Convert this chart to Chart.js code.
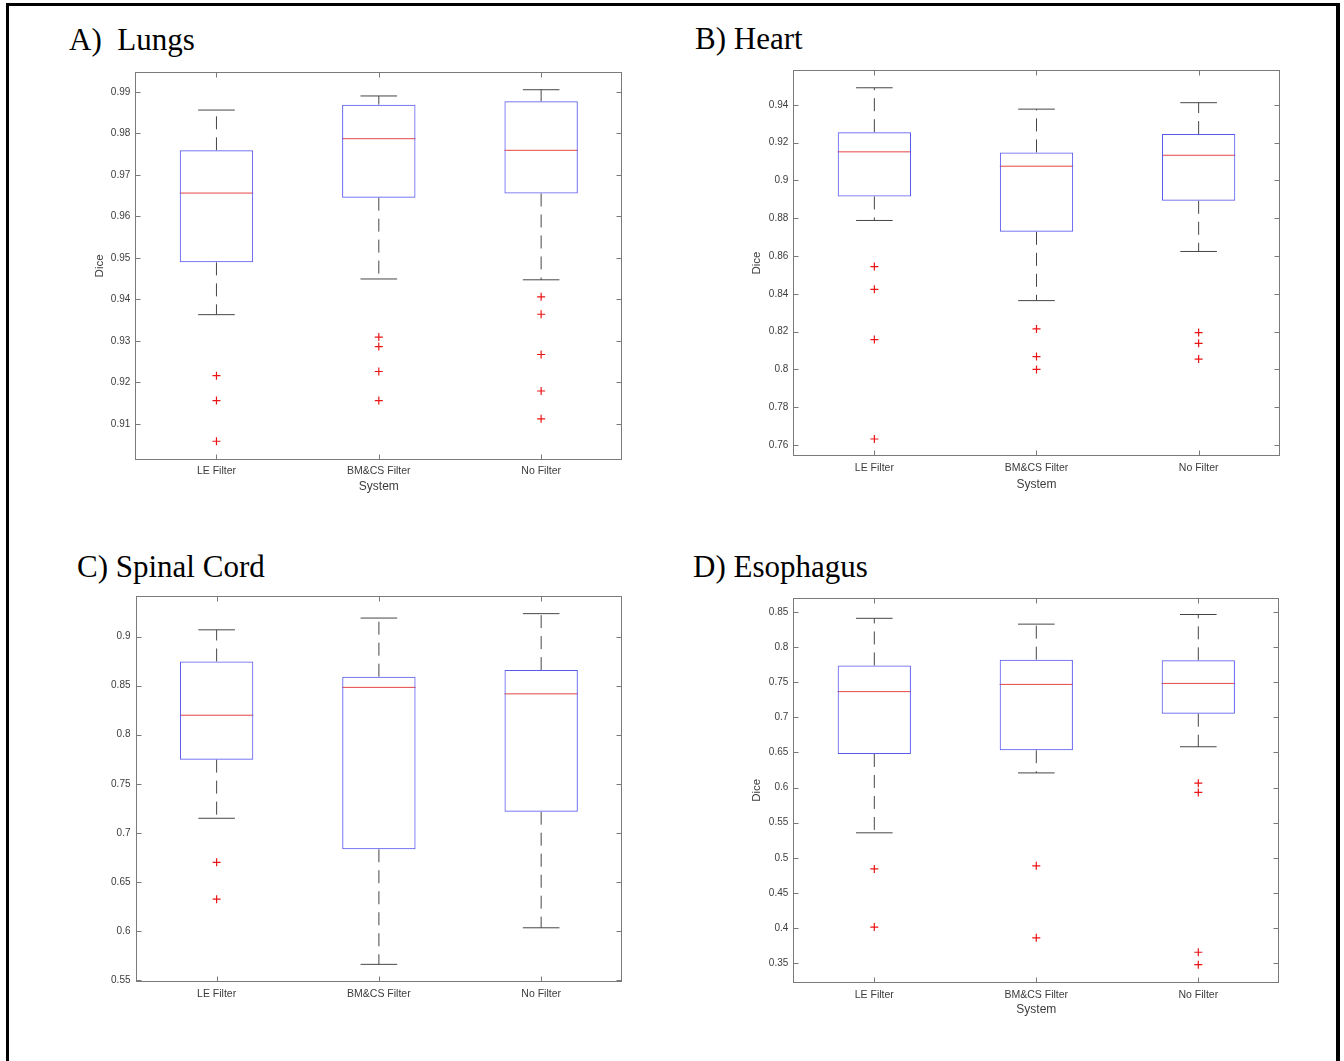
<!DOCTYPE html>
<html>
<head>
<meta charset="utf-8">
<script src="https://cdn.jsdelivr.net/npm/chart.js@4.4.1/dist/chart.umd.min.js"></script>
<style>
  html, body { margin: 0; padding: 0; background: #ffffff; }
  #page { position: relative; width: 1344px; height: 1061px; overflow: hidden; background: #fff; }
  #frame { position: absolute; left: 6px; top: 3px; width: 1327px; height: 1070px; border-left: 3px solid #000; border-top: 3px solid #000; border-right: 4px solid #000; }
  canvas { position: absolute; }
  .ptitle { position: absolute; font-family: "Liberation Serif", "Times New Roman", serif; font-size: 31px; line-height: 31px; color: #000; white-space: pre; }
</style>
</head>
<body>
<div id="page">
  <div id="frame"></div>
  <div class="ptitle" style="left:69px; top:24px;">A)  Lungs</div>
  <div class="ptitle" style="left:695px; top:23px;">B) Heart</div>
  <div class="ptitle" style="left:77px; top:551px;">C) Spinal Cord</div>
  <div class="ptitle" style="left:693px; top:551px;">D) Esophagus</div>
  <canvas id="cA" width="672" height="520" style="left:0px; top:0px;"></canvas>
  <canvas id="cB" width="672" height="520" style="left:672px; top:0px;"></canvas>
  <canvas id="cC" width="672" height="531" style="left:0px; top:530px;"></canvas>
  <canvas id="cD" width="672" height="531" style="left:672px; top:530px;"></canvas>
</div>
<script>
// ---------- DATA ----------
const categories = ['LE Filter', 'BM&CS Filter', 'No Filter'];

// A) Lungs
const lungsTicks = [0.91, 0.92, 0.93, 0.94, 0.95, 0.96, 0.97, 0.98, 0.99];
const lungsLow = [0.9363, 0.9449, 0.9447];
const lungsQ1 = [0.9489, 0.9645, 0.9655];
const lungsMedian = [0.9656, 0.9787, 0.9759];
const lungsQ3 = [0.9759, 0.9869, 0.9877];
const lungsHigh = [0.9856, 0.9890, 0.9905];
const lungsOutliers = [[0.9216, 0.9156, 0.9058], [0.9309, 0.9286, 0.9226, 0.9156], [0.9406, 0.9364, 0.9267, 0.9179, 0.9112]];

// B) Heart
const heartTicks = [0.76, 0.78, 0.80, 0.82, 0.84, 0.86, 0.88, 0.90, 0.92, 0.94];
const heartLow = [0.8788, 0.8364, 0.8624];
const heartQ1 = [0.8915, 0.8728, 0.8892];
const heartMedian = [0.9151, 0.9075, 0.9133];
const heartQ3 = [0.9255, 0.9148, 0.9245];
const heartHigh = [0.9490, 0.9377, 0.9411];
const heartOutliers = [[0.8544, 0.8424, 0.8158, 0.7632], [0.8214, 0.8068, 0.8000], [0.8195, 0.8138, 0.8055]];

// C) Spinal Cord
const spinalTicks = [0.55, 0.60, 0.65, 0.70, 0.75, 0.80, 0.85, 0.90];
const spinalLow = [0.7148, 0.5658, 0.6031];
const spinalQ1 = [0.7746, 0.6832, 0.7215];
const spinalMedian = [0.8199, 0.8483, 0.8417];
const spinalQ3 = [0.8747, 0.8592, 0.8659];
const spinalHigh = [0.9070, 0.9190, 0.9235];
const spinalOutliers = [[0.6699, 0.6323], [], []];

// D) Esophagus
const esoTicks = [0.35, 0.40, 0.45, 0.50, 0.55, 0.60, 0.65, 0.70, 0.75, 0.80, 0.85];
const esoLow = [0.5356, 0.6208, 0.6580];
const esoQ1 = [0.6478, 0.6531, 0.7050];
const esoMedian = [0.7364, 0.7467, 0.7481];
const esoQ3 = [0.7736, 0.7819, 0.7809];
const esoHigh = [0.8407, 0.8324, 0.8461];
const esoOutliers = [[0.4842, 0.4015], [0.4886, 0.3862], [0.6062, 0.5930, 0.3657, 0.3480]];

// ---------- STYLE ----------
const BOX_COLOR = 'rgb(90,90,240)';
const MED_COLOR = 'rgb(230,70,70)';
const WHISK_COLOR = 'rgb(70,70,70)';
const OUT_COLOR = 'rgb(235,20,20)';
const AXIS_COLOR = '#7a7a7a';
const TEXT_COLOR = '#3c3c3c';
const SANS = '"Liberation Sans", Arial, Helvetica, sans-serif';

const frameTicks = {
  id: 'frameTicks',
  afterDatasetsDraw(chart) {
    const { ctx, chartArea, scales } = chart;
    const L = Math.round(chartArea.left) + 0.5, T = Math.round(chartArea.top) + 0.5;
    const R = Math.round(chartArea.right) - 0.5, B = Math.round(chartArea.bottom) - 0.5;
    ctx.save();
    ctx.strokeStyle = AXIS_COLOR;
    ctx.lineWidth = 1;
    ctx.strokeRect(L, T, R - L, B - T);
    ctx.beginPath();
    scales.y.ticks.forEach(t => {
      const py = Math.round(scales.y.getPixelForValue(t.value)) + 0.5;
      ctx.moveTo(L, py); ctx.lineTo(L + 5, py);
      ctx.moveTo(R, py); ctx.lineTo(R - 5, py);
    });
    scales.x.ticks.forEach((t, i) => {
      const px = Math.round(scales.x.getPixelForTick(i)) + 0.5;
      ctx.moveTo(px, T); ctx.lineTo(px, T + 5);
      ctx.moveTo(px, B); ctx.lineTo(px, B - 5);
    });
    ctx.stroke();
    ctx.restore();
  }
};

function fmt(v) { return String(parseFloat(v.toFixed(2))); }

function makeBox(id, low, q1, med, q3, high, outliers, ticks, yMin, yMax, lay) {
  const datasets = [];
  datasets.push({
    type: 'bar',
    data: q1.map((v, i) => [v, q3[i]]),
    backgroundColor: 'rgba(0,0,0,0)',
    borderColor: BOX_COLOR,
    borderWidth: 1,
    borderSkipped: false,
    barPercentage: 0.452,
    categoryPercentage: 1.0
  });
  categories.forEach((c, i) => {
    datasets.push({
      type: 'line', data: [{ x: c, y: q3[i] }, { x: c, y: high[i] }],
      borderColor: WHISK_COLOR, borderWidth: 1, borderDash: [13, 8], pointRadius: 0, fill: false
    });
    datasets.push({
      type: 'line', data: [{ x: c, y: q1[i] }, { x: c, y: low[i] }],
      borderColor: WHISK_COLOR, borderWidth: 1, borderDash: [13, 8], pointRadius: 0, fill: false
    });
  });
  datasets.push({
    type: 'line', showLine: false,
    data: categories.flatMap((c, i) => [{ x: c, y: low[i] }, { x: c, y: high[i] }]),
    pointStyle: 'line', pointRadius: 18.3, pointBorderColor: WHISK_COLOR, pointBackgroundColor: WHISK_COLOR, pointBorderWidth: 1
  });
  datasets.push({
    type: 'line', showLine: false,
    data: categories.map((c, i) => ({ x: c, y: med[i] })),
    pointStyle: 'line', pointRadius: 36.7, pointBorderColor: MED_COLOR, pointBackgroundColor: MED_COLOR, pointBorderWidth: 1
  });
  datasets.push({
    type: 'line', showLine: false,
    data: categories.flatMap((c, i) => outliers[i].map(v => ({ x: c, y: v }))),
    pointStyle: 'cross', pointRadius: 4, pointBorderColor: OUT_COLOR, pointBackgroundColor: OUT_COLOR, pointBorderWidth: 1.2
  });

  return new Chart(document.getElementById(id), {
    type: 'bar',
    data: { labels: categories, datasets },
    plugins: [frameTicks],
    options: {
      responsive: false,
      animation: false,
      events: [],
      layout: { padding: lay.padding },
      plugins: { legend: { display: false }, tooltip: { enabled: false } },
      scales: {
        x: {
          type: 'category',
          offset: true,
          grid: { display: false, drawTicks: false },
          border: { display: false },
          ticks: { color: TEXT_COLOR, font: { family: SANS, size: 10.5 }, padding: 5.5, maxRotation: 0, autoSkip: false },
          title: { display: lay.xTitle, text: 'System', color: TEXT_COLOR, font: { family: SANS, size: 12 }, padding: { top: 0, bottom: 0 } },
          afterFit: s => { s.height = lay.xHeight; }
        },
        y: {
          type: 'linear',
          min: yMin, max: yMax,
          grid: { display: false, drawTicks: false },
          border: { display: false },
          afterBuildTicks: s => { s.ticks = ticks.map(v => ({ value: v })); },
          ticks: { color: TEXT_COLOR, font: { family: SANS, size: 10 }, padding: 5, callback: v => fmt(v) },
          title: { display: lay.yTitle, text: 'Dice', color: TEXT_COLOR, font: { family: SANS, size: 11.5 }, padding: { top: 0, bottom: 0 } },
          afterFit: s => { s.width = lay.yWidth; }
        }
      }
    }
  });
}

makeBox('cA', lungsLow, lungsQ1, lungsMedian, lungsQ3, lungsHigh, lungsOutliers, lungsTicks, 0.9014, 0.9947,
  { padding: { left: 93.4, top: 72.3, right: 49.7, bottom: 26.1 }, yWidth: 41.9, xHeight: 34.4, xTitle: true, yTitle: true });
makeBox('cB', heartLow, heartQ1, heartMedian, heartQ3, heartHigh, heartOutliers, heartTicks, 0.7542, 0.9584,
  { padding: { left: 78.1, top: 70, right: 64.3, bottom: 28.5 }, yWidth: 43.2, xHeight: 35.5, xTitle: true, yTitle: true });
makeBox('cC', spinalLow, spinalQ1, spinalMedian, spinalQ3, spinalHigh, spinalOutliers, spinalTicks, 0.5475, 0.9418,
  { padding: { left: 90, top: 65.7, right: 49.7, bottom: 48.7 }, yWidth: 45.5, xHeight: 30, xTitle: false, yTitle: false });
makeBox('cD', esoLow, esoQ1, esoMedian, esoQ3, esoHigh, esoOutliers, esoTicks, 0.322, 0.870,
  { padding: { left: 77.6, top: 67.7, right: 64.7, bottom: 43.8 }, yWidth: 43.7, xHeight: 34.2, xTitle: true, yTitle: true });
</script>
</body>
</html>
